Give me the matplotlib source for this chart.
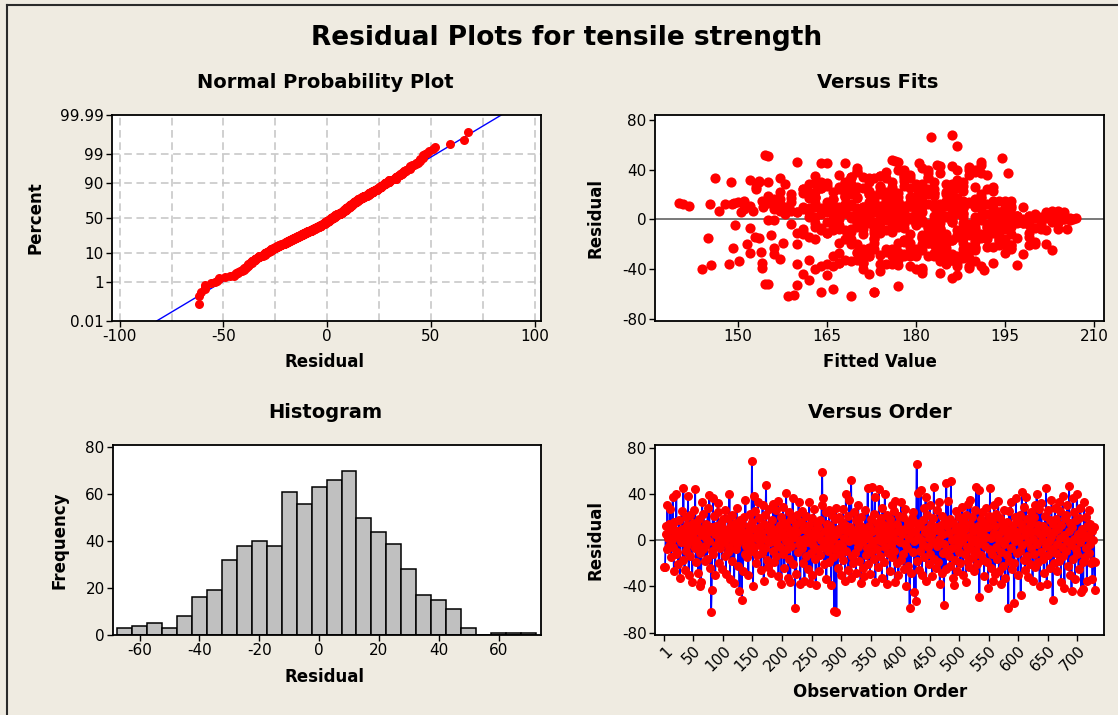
import numpy as np
import matplotlib.pyplot as plt
from matplotlib.lines import Line2D
from statistics import NormalDist

plt.rcParams['font.family'] = 'DejaVu Sans'
plt.rcParams['axes.unicode_minus'] = False

W, H = 1118, 715
BG = '#EFEBE1'

# residuals in observation order
residuals = [
    -23, -23, 5, 12, -8, 30, 2, 14, -5, 9, 27, -15, 0, 11, 37, -6, -27, 16, 4, -12,
    40, -10, 8, -21, 3, 17, -33, 6, -2, 25, 10, -17, 45, 1, -26, 7, -9, 20, -4, 13,
    38, -30, 3, -14, 22, 9, -1, -36, 15, 6, 26, -7, 44, -19, 0, 12, -3, -28, 18, 8,
    -40, -11, -36, 4, 33, -8, 23, 10, -18, -5, 14, 2, -16, 28, 7, -1, 39, -24, 11, -62,
    -43, -9, 36, -12, 21, 5, -30, 12, -4, 9, 32, 24, -20, 0, -7, 15, 3, -25, 6, 18,
    -2, 10, -14, 26, -29, 1, 7, -10, 19, -6, 40, -34, 13, 4, -18, 22, -1, 8, -37, 3,
    15, -8, 28, -3, 11, -22, 5, -44, 17, 0, 9, -52, 14, -27, 2, 20, -12, 35, -5, 6,
    -15, 7, -30, 12, -1, 23, 3, -9, 68, 16, -40, 38, -6, 25, 10, -20, 4, -13, 33, 1,
    19, -4, 11, -26, 6, -11, 30, 2, -35, 14, -7, 22, 48, -17, 0, 9, -23, 27, -2, 12,
    5, -28, 17, -9, 31, 8, -19, 1, 26, -14, 10, -3, 34, -31, 3, 13, -6, 20, -38, 7,
    -12, 29, 4, -24, 15, -1, 41, -8, 11, -33, 24, -16, 6, -36, 18, -5, 2, 36, -21, 9,
    3, -59, 14, -29, 7, 22, -10, 33, -3, 0, -38, 16, -7, 25, -20, 10, 1, -35, 12, -14,
    21, -2, 8, -25, 13, 33, -37, 5, -11, 19, -30, 2, -4, 27, 9, -16, -39, 6, 15, -8,
    11, -27, 4, 17, -13, 0, 30, 59, -6, 36, -21, 8, -1, 24, -34, 14, -9, 3, -19, 26,
    -4, 12, -39, 7, 22, -15, 1, -61, 18, -8, 28, -62, 5, -24, 10, -3, 20, -12, 9, -30,
    16, -5, 27, -17, 2, 13, -35, 40, -9, 8, 21, -26, -1, 35, 11, -33, 52, -14, 4, -20,
    6, 24, -11, 0, -28, 17, 9, -6, 30, -18, 14, 3, -37, 20, -2, 11, -24, 7, -31, 1,
    26, -13, 5, -7, 45, -21, 12, 2, -29, 18, -10, 46, -3, 8, -16, 23, 37, -36, 0, 15,
    -8, 10, -23, 44, 4, -14, 19, -1, -33, 28, 7, -19, 13, 40, -6, 1, 22, -38, 9, -11,
    3, 18, -27, 12, -4, 30, -15, 6, 25, -9, -36, 34, 0, -20, 14, 8, -30, 21, -2, 10,
    -17, 33, 5, -12, 20, -25, 9, -3, 27, -40, 11, -7, 16, -22, 2, -59, 13, -28, 6, 19,
    -10, 24, -1, -45, 8, -53, 15, 66, -18, 3, 41, -26, 12, -9, 43, 0, -30, 17, -4, 28,
    -15, 7, 37, -35, 10, 22, -6, 2, -21, 30, -12, 14, 4, -31, 19, -2, 46, -16, 9, -24,
    11, -5, 26, -19, 1, 33, -38, 8, 13, -28, 21, -11, 5, -56, -3, 17, -25, 49, -8, 12,
    34, -14, 6, -22, 18, 51, -7, 0, -33, 15, -39, 9, -17, 25, 2, -27, 11, -4, 20, -10,
    7, -20, 13, -1, 29, -30, 4, 16, -12, 10, -36, 22, -6, 31, -18, 3, -23, 14, 35, -8,
    -2, 20, -15, 8, -27, 26, 1, -9, 46, -21, 12, -3, 43, -49, 6, 18, -13, 0, 24, -17,
    9, -31, 15, -5, 28, 3, -19, 11, -41, 21, -8, 45, -24, 2, 17, -12, -35, 6, 30, -29,
    12, -6, 23, -16, 4, 34, -27, 0, 19, -10, -38, 8, 14, -22, 26, -3, 10, -33, 1, 16,
    -13, 5, -59, 25, -18, 9, 33, -7, -25, 3, 13, -20, -54, 20, -1, 36, -11, 7, -30, 17,
    2, 22, -9, -47, 14, 42, -4, 10, -17, 29, -26, 4, 37, -14, 18, -2, -32, 11, 6, -21,
    24, -7, 15, -35, 1, 20, -12, 30, -23, 8, 40, -3, -19, 13, 27, -40, 5, -10, 32, 0,
    -16, 12, -28, 6, 21, -5, 45, -38, 9, -13, 26, -1, 17, -24, 3, 35, -8, -52, 14, -20,
    7, 28, -11, 18, -3, -27, 10, 33, -18, 2, 25, -36, 13, -6, 38, -14, 4, -41, 19, -9,
    22, -1, 30, -22, 8, 47, -30, 15, -4, -44, 11, 36, -16, 24, 1, -34, 17, -8, 40, -12,
    5, -25, 19, -2, 28, -45, 9, 10, -19, -42, 33, -15, 3, 20, -7, -35, 12, 4, -11, 26,
    -3, 14, -20, 8, -34, -18, 0, 11, -43, -19,
]

fitted = [
    172, 185, 193, 168, 204, 176, 199, 181, 149.5, 188, 174, 191, 166, 179, 184, 201, 170, 157, 196, 182,
    189, 161, 177, 194, 183, 170, 186, 205, 173, 164, 190, 178, 168, 197, 175, 146.8, 187, 162, 180, 140,
    175, 183, 169, 192, 166, 187, 178, 160, 195, 172, 181, 152, 191, 167, 203, 184, 174, 198, 163, 180,
    144, 189, 165, 200, 182, 171, 193, 158, 185, 167, 179, 190, 173, 186, 162, 206, 170, 196, 141.7, 169,
    184, 174, 192, 161, 177, 188, 166, 182, 199, 170, 187, 153, 151.5, 179, 164, 185, 172, 190, 202, 168,
    181, 163, 187, 176, 171, 195, 159, 183, 173, 192, 178, 150.1, 189, 174, 200, 168, 186, 156, 145.5, 197,
    177, 190, 162, 184, 169, 193, 175, 161, 186, 204, 171, 155, 181, 152, 191, 159, 196, 174, 183, 150.5,
    188, 166, 179, 157, 155, 172, 185, 164, 186, 180, 163, 190, 177, 170, 198, 183, 158, 194, 175, 207,
    168, 182, 175, 189, 160, 173, 148.8, 201, 167, 191, 178, 163, 176, 186, 171, 195, 149.1, 180, 165, 147.8,
    187, 156, 159, 194, 178, 166, 183, 174, 190, 162, 181, 197, 169, 185, 176, 149.4, 192, 172, 164, 203,
    179, 165, 188, 173, 196, 183, 170, 161, 186, 177, 192, 168, 180, 148.4, 175, 199, 162, 189, 184, 171,
    191, 164, 176, 185, 168, 157, 182, 173, 193, 205, 179, 166, 188, 171, 160, 184, 200, 154, 145.2, 194,
    174, 186, 162, 180, 190, 169, 177, 195, 165, 183, 172, 188, 159, 178, 167, 192, 154, 181, 151, 201,
    185, 167, 193, 176, 181, 170, 153.5, 187, 163, 179, 196, 174, 184, 161, 190, 175, 168, 199, 182, 153,
    178, 140.8, 189, 184, 172, 145, 206, 159.5, 175, 195, 169, 158.5, 187, 180, 166, 198, 182, 171, 193, 176,
    190, 176, 165, 186, 171, 180, 193, 177, 202, 161, 183, 170, 156, 174, 196, 162, 154.5, 181, 167, 185,
    173, 182, 160, 194, 178, 187, 165, 190, 172, 184, 150, 177, 197, 169, 186, 179, 175, 152.5, 188, 200,
    167, 189, 178, 184, 164, 195, 172, 163, 180, 191, 176, 177, 204, 186, 169, 174, 182, 185, 170, 154,
    183, 171, 196, 183.5, 166, 188, 175, 193, 170, 185, 157, 179, 191, 190, 173, 204.5, 168, 187, 162, 199,
    176, 163, 184, 192, 170, 155, 197, 165, 187, 173, 175, 169, 206, 181, 189, 151, 178, 162, 194, 183,
    190, 146.2, 168, 185, 174, 181, 195, 163, 188, 171, 179, 200, 166, 192, 184, 173, 155, 186, 170, 180,
    169, 183, 191, 187, 176, 160, 193, 182.5, 178, 202, 181, 153.8, 186, 175, 184, 195, 172, 162, 189, 180,
    181, 158, 195.5, 171, 186, 175, 167, 197, 183, 164, 190, 177, 172, 185, 168, 203, 160, 194, 178, 188,
    174, 189, 170, 182, 196, 178, 191, 165, 156.5, 176, 161, 193, 180, 166, 172, 187, 203, 194.5, 169, 183,
    171, 185, 160, 190, 177, 155, 182, 198, 168, 188, 181, 173, 194, 164, 186, 179, 152, 201, 175, 192,
    184, 170, 179, 193, 163, 187, 175, 156, 189, 167, 174, 181, 196, 153.5, 183, 172, 190, 165, 178, 205.5,
    177, 186, 153.5, 191, 172, 180, 169, 184, 191, 199, 175, 188, 186, 162, 194, 170, 182, 206, 167, 178,
    164, 189, 173, 180, 158, 195, 177, 186, 191.5, 168, 183, 165, 171, 200, 176, 192, 187, 162, 183, 174,
    181, 170, 188, 163, 176, 182, 195, 167, 173, 190, 189, 184, 159, 179, 193, 171, 166, 186, 178, 175,
    187, 168, 173, 179, 194, 172, 157, 183, 176, 197, 186, 169, 177, 191, 180, 167, 174, 204, 182, 163,
    179, 185, 166, 186, 175, 189, 192, 171, 183, 168, 177, 164, 191, 199, 181, 170, 157, 188, 174, 196,
    176, 193, 180, 167, 202, 172, 184, 188, 156, 178, 182, 195, 173, 163, 186, 180, 170, 190, 152, 205,
    185, 169, 177, 194, 183, 171, 180.5, 166, 188, 155.5, 174, 181, 191, 176, 197, 163, 184, 154.5, 172, 200,
    174, 187, 165, 179, 198, 183, 161, 172, 190, 185, 168, 176, 193, 182, 170, 152.8, 177, 181, 155, 189,
    182, 175, 168, 189, 164, 176.5, 180, 194, 171, 172, 186, 178, 195, 161, 203.5, 184, 173, 167, 187, 191,
    170, 184, 176, 190, 181, 165, 196, 154.2, 188, 174, 179, 173, 199, 185, 166, 171, 149, 192, 183, 169,
    180, 187, 202, 173, 169, 195, 206.5, 178, 181, 157.5,
]

# histogram: bin centres (width 5) and bar heights
bin_centers = [-65, -60, -55, -50, -45, -40, -35, -30, -25, -20, -15, -10, -5, 0,
               5, 10, 15, 20, 25, 30, 35, 40, 45, 50, 55, 60, 65, 70]
counts = [3, 4, 5, 3, 8, 16, 19, 32, 38, 40, 38, 61, 56, 63,
          66, 70, 50, 44, 39, 28, 17, 15, 11, 3, 0, 1, 1, 1]

prob_ticks = [0.01, 1, 10, 50, 90, 99, 99.99]
prob_labels = ['0.01', '1', '10', '50', '90', '99', '99.99']
order_ticks = [1, 50, 100, 150, 200, 250, 300, 350, 400, 450, 500, 550, 600, 650, 700]


fig = plt.figure(figsize=(W / 100, H / 100), dpi=100, facecolor=BG)


def add_axes_px(x0, y0, x1, y1):
    ax = fig.add_axes([x0 / W, 1 - y1 / H, (x1 - x0) / W, (y1 - y0) / H])
    ax.set_facecolor('white')
    for s in ax.spines.values():
        s.set_linewidth(1.3)
        s.set_color('black')
    ax.tick_params(direction='out', length=4, width=1, labelsize=11, pad=2,
                   top=False, right=False)
    return ax


def text_px(x, y, s, **kw):
    fig.text(x / W, 1 - y / H, s, ha='center', va='center', **kw)


# frame on the left and top
fig.add_artist(Line2D([7 / W, 7 / W], [0, 1 - 5 / H], color='#2A2A2A', lw=1.5))
fig.add_artist(Line2D([7 / W, 1], [1 - 5 / H, 1 - 5 / H], color='#2A2A2A', lw=1.5))

text_px(567, 38, 'Residual Plots for tensile strength', fontsize=19, fontweight='bold')
text_px(325, 82, 'Normal Probability Plot', fontsize=14, fontweight='bold')
text_px(878, 82, 'Versus Fits', fontsize=14, fontweight='bold')
text_px(325, 412, 'Histogram', fontsize=14, fontweight='bold')
text_px(880, 412, 'Versus Order', fontsize=14, fontweight='bold')

r = np.array(residuals, dtype=float)
f = np.array(fitted, dtype=float)
n = len(r)
nd = NormalDist()

# normal probability plot
ax1 = add_axes_px(112, 115, 541, 321)
zmax = nd.inv_cdf(0.9999)
for gx in range(-100, 101, 25):
    ax1.axvline(gx, color='#C4C4C4', lw=1.1, ls=(0, (5, 3)), zorder=1)
for p in prob_ticks[1:-1]:
    ax1.axhline(nd.inv_cdf(p / 100), color='#C4C4C4', lw=1.1, ls=(0, (5, 3)), zorder=1)
rs = np.sort(r)
pp = (np.arange(1, n + 1) - 0.3) / (n + 0.4)
zz = np.array([nd.inv_cdf(v) for v in pp])
mu, sd = r.mean(), r.std(ddof=1)
ax1.plot([mu - sd * zmax, mu + sd * zmax], [-zmax, zmax], color='#0000FF', lw=1, zorder=2)
ax1.plot(rs, zz, 'o', ms=6.5, color='#FF0000', mec='none', zorder=3)
ax1.set_xlim(-103.7, 103.1)
ax1.set_ylim(-zmax, zmax)
ax1.set_xticks([-100, -50, 0, 50, 100])
ax1.set_yticks([nd.inv_cdf(p / 100) for p in prob_ticks])
ax1.set_yticklabels(prob_labels)
text_px(325, 362, 'Residual', fontsize=12, fontweight='bold')
text_px(35, 218, 'Percent', fontsize=12, fontweight='bold', rotation=90)

# versus fits
ax2 = add_axes_px(655, 115, 1104, 321)
ax2.axhline(0, color='#6E6E6E', lw=1.3, zorder=1)
ax2.scatter(f, r, s=54, color='#FF0000', linewidths=0, zorder=3)
ax2.set_xlim(136, 211.7)
ax2.set_ylim(-82, 84)
ax2.set_xticks([150, 165, 180, 195, 210])
ax2.set_yticks([-80, -40, 0, 40, 80])
text_px(880, 362, 'Fitted Value', fontsize=12, fontweight='bold')
text_px(596, 218, 'Residual', fontsize=12, fontweight='bold', rotation=90)

# histogram
ax3 = add_axes_px(113, 445, 541, 635)
ax3.bar(bin_centers, counts, width=5, color='#C0C0C0', edgecolor='black', linewidth=1.1)
ax3.set_xlim(-68.9, 74.2)
ax3.set_ylim(0, 81)
ax3.set_xticks([-60, -40, -20, 0, 20, 40, 60])
ax3.set_yticks([0, 20, 40, 60, 80])
text_px(325, 677, 'Residual', fontsize=12, fontweight='bold')
text_px(60, 540, 'Frequency', fontsize=12, fontweight='bold', rotation=90)

# versus order
ax4 = add_axes_px(655, 445, 1104, 635)
obs = np.arange(1, n + 1)
ax4.axhline(0, color='#6E6E6E', lw=1.3, zorder=1)
ax4.plot(obs, r, color='#0000FF', lw=1.3, zorder=2)
ax4.plot(obs, r, 'o', ms=6.5, color='#FF0000', mec='none', zorder=3)
ax4.set_xlim(-15, 745)
ax4.set_ylim(-82, 82.2)
ax4.set_xticks(order_ticks)
ax4.set_xticklabels([str(t) for t in order_ticks], rotation=45, ha='right',
                    rotation_mode='anchor')
ax4.set_yticks([-80, -40, 0, 40, 80])
text_px(880, 692, 'Observation Order', fontsize=12, fontweight='bold')
text_px(596, 540, 'Residual', fontsize=12, fontweight='bold', rotation=90)

fig.savefig('out.png', dpi=100, facecolor=BG)
